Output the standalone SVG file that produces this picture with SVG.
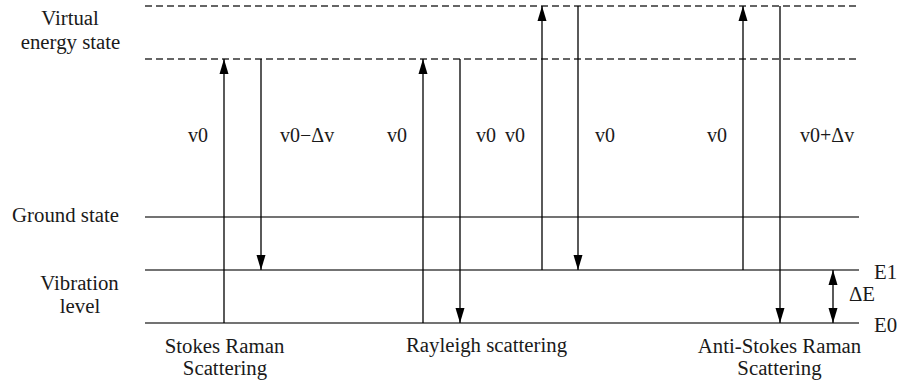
<svg xmlns="http://www.w3.org/2000/svg" width="897" height="387" viewBox="0 0 897 387">
<style>
text{font-family:"Liberation Serif","Times New Roman",serif;font-size:20.8px;fill:#1a1a1a}
.v{font-size:20px}
.m{text-anchor:middle}
.dash{stroke:#333;stroke-width:1.3;stroke-dasharray:7 4;fill:none}
.lvl{stroke:#444;stroke-width:1.5;fill:none}
.arr{stroke:#000;stroke-width:1.3;fill:none}
.up{marker-end:url(#ah)}
.dn{marker-end:url(#ah)}
</style>
<defs>
<marker id="ah" markerUnits="userSpaceOnUse" markerWidth="15" markerHeight="10" refX="15" refY="5" orient="auto-start-reverse" viewBox="0 0 15 10">
<path d="M0,0.5 L15,5 L0,9.5 z" fill="#000"/>
</marker>
</defs>
<rect width="897" height="387" fill="#fff"/>
<g id="levels">
<line class="dash" x1="145" y1="6" x2="859" y2="6"/>
<line class="dash" x1="145" y1="59" x2="859" y2="59"/>
<line class="lvl" x1="145" y1="217" x2="859" y2="217"/>
<line class="lvl" x1="145" y1="270" x2="859" y2="270"/>
<line class="lvl" x1="145" y1="323" x2="859" y2="323"/>
</g>
<g id="level-labels">
<text class="m" x="70" y="25">Virtual</text>
<text class="m" x="70.5" y="49">energy state</text>
<text class="m" x="65.5" y="222">Ground state</text>
<text class="m" x="79.5" y="290">Vibration</text>
<text class="m" x="80" y="313">level</text>
<text x="874" y="279">E1</text>
<text x="849" y="301">ΔE</text>
<text x="874" y="332">E0</text>
</g>
<g id="connectors">
<line class="arr up" x1="224" y1="323" x2="224" y2="59"/>
<line class="arr dn" x1="261" y1="59" x2="261" y2="270"/>
<line class="arr up" x1="423" y1="323" x2="423" y2="59"/>
<line class="arr dn" x1="460" y1="59" x2="460" y2="323"/>
<line class="arr up" x1="542" y1="270" x2="542" y2="6"/>
<line class="arr dn" x1="578" y1="6" x2="578" y2="270"/>
<line class="arr up" x1="743" y1="270" x2="743" y2="6"/>
<line class="arr dn" x1="780" y1="6" x2="780" y2="323"/>
<line class="arr" x1="833" y1="270" x2="833" y2="323" marker-start="url(#ah)" marker-end="url(#ah)"/>
</g>
<g id="stokes">
<text class="v" x="188" y="142">v0</text>
<text class="v" x="280" y="142">v0−Δv</text>
<text class="m" x="224.5" y="353">Stokes Raman</text>
<text class="m" x="225" y="375">Scattering</text>
</g>
<g id="rayleigh">
<text class="v" x="387" y="142">v0</text>
<text class="v" x="476" y="142">v0</text>
<text class="v" x="505" y="142">v0</text>
<text class="v" x="595" y="142">v0</text>
<text class="m" x="486.5" y="352">Rayleigh scattering</text>
</g>
<g id="anti-stokes">
<text class="v" x="707" y="142">v0</text>
<text class="v" x="800" y="142">v0+Δv</text>
<text class="m" x="779.5" y="353">Anti-Stokes Raman</text>
<text class="m" x="779.5" y="375">Scattering</text>
</g>
</svg>
